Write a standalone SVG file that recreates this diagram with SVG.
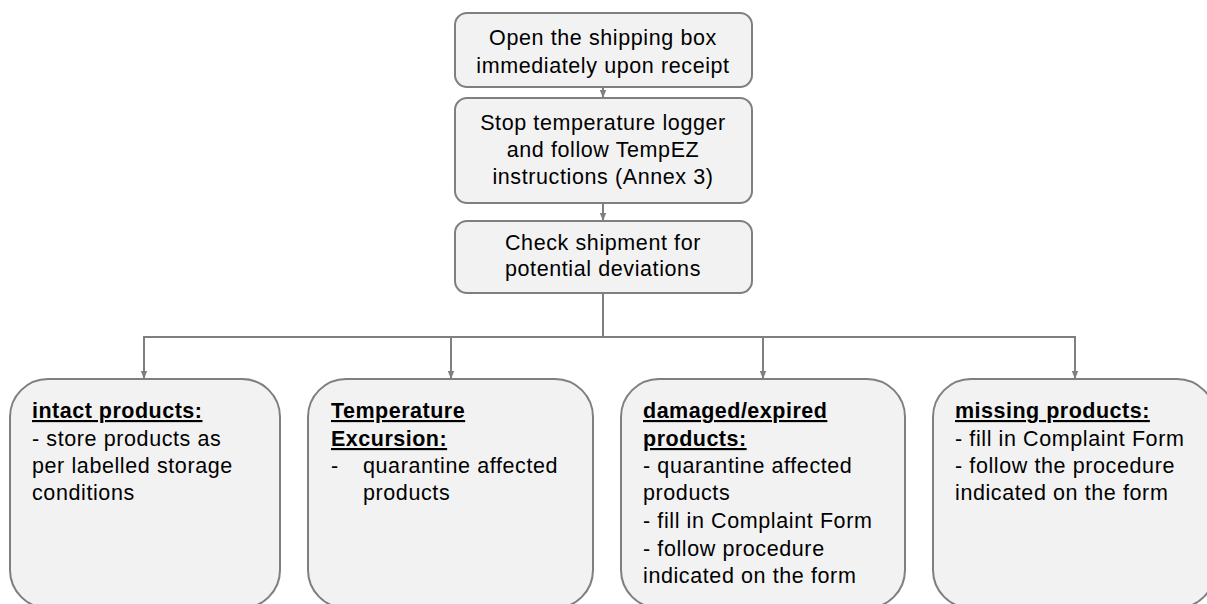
<svg xmlns="http://www.w3.org/2000/svg" width="1207" height="604" viewBox="0 0 1207 604">
<defs>
<style>
.box{fill:#f2f2f2;stroke:#7f7f7f;stroke-width:2}
.t{font-family:"Liberation Sans",Arial,sans-serif;font-size:21.5px;letter-spacing:0.6px;fill:#000}
.c{text-anchor:middle}
.h{font-weight:bold;text-decoration:underline;letter-spacing:0.5px}
.ln{fill:none;stroke:#7f7f7f;stroke-width:2}
</style>
<marker id="ah" viewBox="0 0 10 10" refX="10" refY="5" markerWidth="8" markerHeight="8" orient="auto" markerUnits="userSpaceOnUse">
<path d="M0,1 L10,5 L0,9 z" fill="#7f7f7f"/>
</marker>
</defs>
<rect width="1207" height="604" fill="#fff"/>
<g id="connectors">
<line class="ln" x1="603" y1="87" x2="603" y2="98" marker-end="url(#ah)"/>
<line class="ln" x1="603" y1="203" x2="603" y2="221" marker-end="url(#ah)"/>
<polyline class="ln" points="603,293 603,337"/>
<line class="ln" x1="144" y1="337" x2="1075" y2="337"/>
<line class="ln" x1="144" y1="336" x2="144" y2="379" marker-end="url(#ah)"/>
<line class="ln" x1="451" y1="337" x2="451" y2="379" marker-end="url(#ah)"/>
<line class="ln" x1="763" y1="337" x2="763" y2="379" marker-end="url(#ah)"/>
<line class="ln" x1="1075" y1="336" x2="1075" y2="379" marker-end="url(#ah)"/>
</g>
<g id="n1">
<rect class="box" x="455" y="13" width="297" height="74" rx="12"/>
<text class="t c" x="603" y="45">Open the shipping box</text>
<text class="t c" x="603" y="73">immediately upon receipt</text>
</g>
<g id="n2">
<rect class="box" x="455" y="98" width="297" height="105" rx="12"/>
<text class="t c" x="603" y="130">Stop temperature logger</text>
<text class="t c" x="603" y="157">and follow TempEZ</text>
<text class="t c" x="603" y="184">instructions (Annex 3)</text>
</g>
<g id="n3">
<rect class="box" x="455" y="221" width="297" height="72" rx="12"/>
<text class="t c" x="603" y="250">Check shipment for</text>
<text class="t c" x="603" y="276">potential deviations</text>
</g>
<g id="n4">
<rect class="box" x="10" y="379" width="270" height="229" rx="38"/>
<text class="t h" x="32" y="418">intact products:</text>
<text class="t" x="32" y="446">- store products as</text>
<text class="t" x="32" y="473">per labelled storage</text>
<text class="t" x="32" y="500">conditions</text>
</g>
<g id="n5">
<rect class="box" x="308" y="379" width="285" height="229" rx="38"/>
<text class="t h" x="331" y="418">Temperature</text>
<text class="t h" x="331" y="446">Excursion:</text>
<text class="t" x="331" y="473">-</text>
<text class="t" x="363" y="473">quarantine affected</text>
<text class="t" x="363" y="500">products</text>
</g>
<g id="n6">
<rect class="box" x="621" y="379" width="284" height="229" rx="38"/>
<text class="t h" x="643" y="418">damaged/expired</text>
<text class="t h" x="643" y="446">products:</text>
<text class="t" x="643" y="473">- quarantine affected</text>
<text class="t" x="643" y="500">products</text>
<text class="t" x="643" y="528">- fill in Complaint Form</text>
<text class="t" x="643" y="556">- follow procedure</text>
<text class="t" x="643" y="583">indicated on the form</text>
</g>
<g id="n7">
<rect class="box" x="933" y="379" width="282" height="229" rx="38"/>
<text class="t h" x="955" y="418">missing products:</text>
<text class="t" x="955" y="446">- fill in Complaint Form</text>
<text class="t" x="955" y="473">- follow the procedure</text>
<text class="t" x="955" y="500">indicated on the form</text>
</g>
</svg>
